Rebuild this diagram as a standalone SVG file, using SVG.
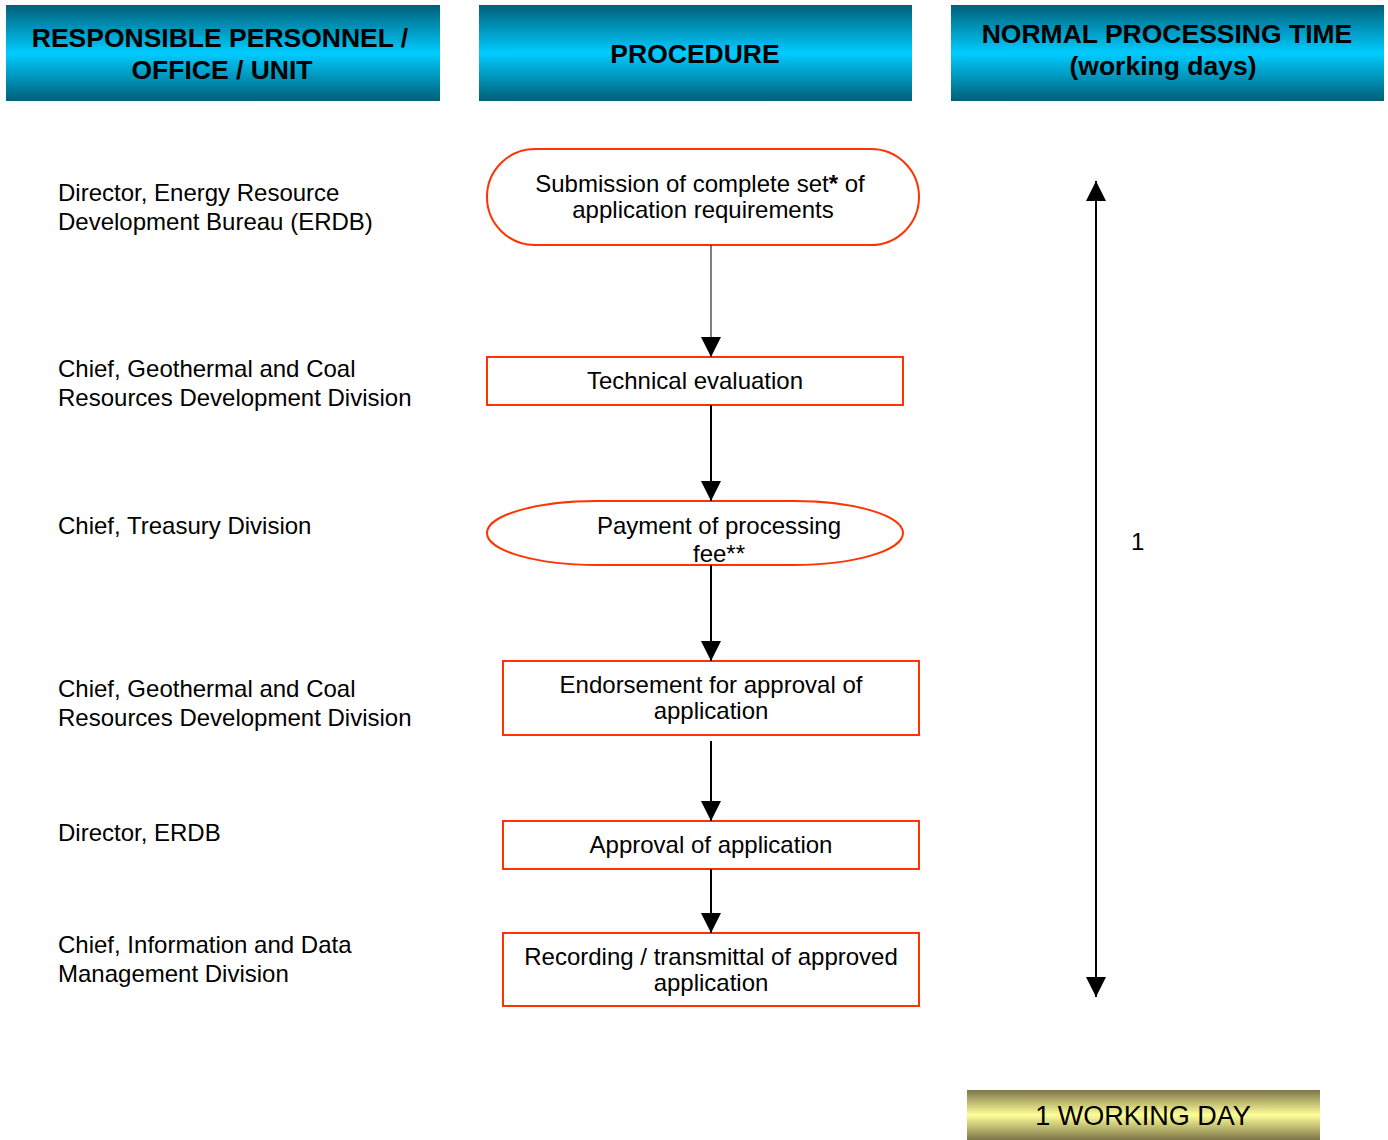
<svg xmlns="http://www.w3.org/2000/svg" width="1388" height="1140" viewBox="0 0 1388 1140">
<defs>
<linearGradient id="hdr" x1="0" y1="0" x2="0" y2="1">
<stop offset="0" stop-color="#005f78"/>
<stop offset="0.5" stop-color="#00ccff"/>
<stop offset="1" stop-color="#005f78"/>
</linearGradient>
<linearGradient id="ylw" x1="0" y1="0" x2="0" y2="1">
<stop offset="0" stop-color="#7d7548"/>
<stop offset="0.5" stop-color="#ffff99"/>
<stop offset="1" stop-color="#7d7548"/>
</linearGradient>
<marker id="ah" viewBox="0 0 20 20" refX="20" refY="10" markerWidth="20" markerHeight="20" markerUnits="userSpaceOnUse" orient="auto-start-reverse">
<path d="M0,0 L20,10 L0,20 Z" fill="#000"/>
</marker>
</defs>
<style>
text{font-family:"Liberation Sans",Arial,sans-serif;fill:#000}
.h{font-size:26.5px;font-weight:bold;text-anchor:middle}
.n{font-size:24px;text-anchor:middle}
.l{font-size:24px}
.box{fill:#fff;stroke:#ff3300;stroke-width:2}
.c{stroke:#000;stroke-width:2;fill:none}
</style>
<rect width="1388" height="1140" fill="#fff"/>
<g id="header-personnel"><rect x="6" y="5" width="434" height="96" fill="url(#hdr)"/>
<text class="h" x="220" y="47">RESPONSIBLE PERSONNEL /</text>
<text class="h" x="222" y="79">OFFICE / UNIT</text></g>
<g id="header-procedure"><rect x="479" y="5" width="433" height="96" fill="url(#hdr)"/>
<text class="h" x="695" y="63">PROCEDURE</text></g>
<g id="header-time"><rect x="951" y="5" width="433" height="96" fill="url(#hdr)"/>
<text class="h" x="1167" y="43">NORMAL PROCESSING TIME</text>
<text class="h" x="1163" y="75">(working days)</text></g>
<g id="labels">
<text class="l" x="58" y="201">Director, Energy Resource</text>
<text class="l" x="58" y="230">Development Bureau (ERDB)</text>
<text class="l" x="58" y="377">Chief, Geothermal and Coal</text>
<text class="l" x="58" y="406">Resources Development Division</text>
<text class="l" x="58" y="534">Chief, Treasury Division</text>
<text class="l" x="58" y="697">Chief, Geothermal and Coal</text>
<text class="l" x="58" y="726">Resources Development Division</text>
<text class="l" x="58" y="841">Director, ERDB</text>
<text class="l" x="58" y="953">Chief, Information and Data</text>
<text class="l" x="58" y="982">Management Division</text>
</g>
<g id="n1"><rect class="box" x="487" y="149" width="432" height="96" rx="48" ry="48"/>
<text class="n" x="700" y="192">Submission of complete set<tspan font-weight="bold">*</tspan> of</text>
<text class="n" x="703" y="218">application requirements</text></g>
<g id="n2"><rect class="box" x="487" y="357" width="416" height="48"/>
<text class="n" x="695" y="389">Technical evaluation</text></g>
<g id="n3"><rect class="box" x="487" y="501" width="416" height="64" rx="110" ry="32"/>
<text class="n" x="719" y="534">Payment of processing</text>
<text class="n" x="719" y="562">fee**</text></g>
<g id="n4"><rect class="box" x="503" y="661" width="416" height="74"/>
<text class="n" x="711" y="693">Endorsement for approval of</text>
<text class="n" x="711" y="719">application</text></g>
<g id="n5"><rect class="box" x="503" y="821" width="416" height="48"/>
<text class="n" x="711" y="853">Approval of application</text></g>
<g id="n6"><rect class="box" x="503" y="933" width="416" height="73"/>
<text class="n" x="711" y="965">Recording / transmittal of approved</text>
<text class="n" x="711" y="991">application</text></g>
<g id="connectors">
<line class="c" style="stroke-width:1" x1="711" y1="245" x2="711" y2="357" marker-end="url(#ah)"/>
<line class="c" x1="711" y1="405" x2="711" y2="501" marker-end="url(#ah)"/>
<line class="c" x1="711" y1="565" x2="711" y2="661" marker-end="url(#ah)"/>
<line class="c" x1="711" y1="741" x2="711" y2="821" marker-end="url(#ah)"/>
<line class="c" x1="711" y1="869" x2="711" y2="933" marker-end="url(#ah)"/>
<line class="c" x1="1096" y1="181" x2="1096" y2="997" marker-start="url(#ah)" marker-end="url(#ah)"/>
</g>
<text class="l" x="1131" y="550">1</text>
<g id="total"><rect x="967" y="1090" width="353" height="50" fill="url(#ylw)"/>
<text x="1143" y="1125" style="font-size:27px;text-anchor:middle">1 WORKING DAY</text></g>
</svg>
